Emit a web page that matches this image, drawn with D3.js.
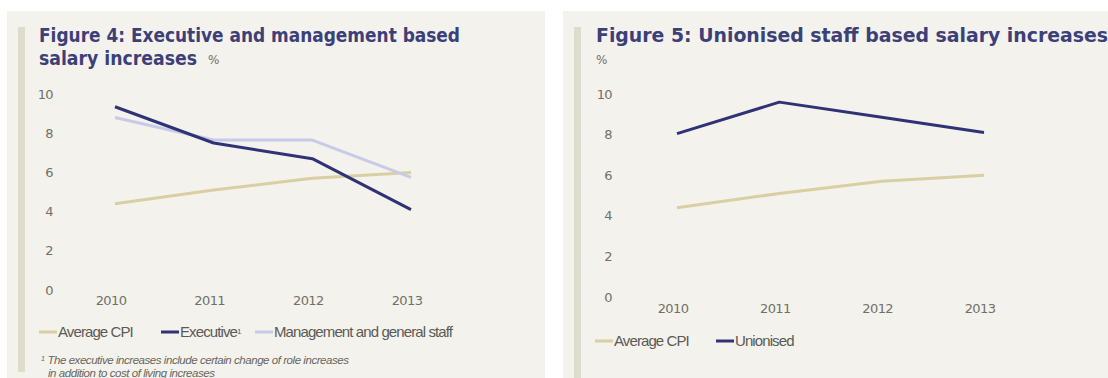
<!DOCTYPE html>
<html>
<head>
<meta charset="utf-8">
<script src="https://cdn.jsdelivr.net/npm/d3@7"></script>
<style>
  body { margin: 0; background: #fff; }
  svg { display: block; }
  .tick-label { font-family: "DejaVu Sans", sans-serif; font-size: 13px; fill: #707069; letter-spacing: -0.6px; }
  .legend-label { font-family: "Liberation Sans", sans-serif; font-size: 15px; fill: #5a5a56; letter-spacing: -0.9px; }
  .title { font-family: "DejaVu Sans Condensed", "DejaVu Sans", sans-serif; font-weight: 700; font-size: 19px; fill: #3c4078; }
</style>
</head>
<body>
<script>
'use strict';

// data
var years      = [2010, 2011, 2012, 2013];
var yTicks     = [0, 2, 4, 6, 8, 10];
var cpi        = [4.4, 5.1, 5.7, 6.0];
var executive  = [9.35, 7.5, 6.7, 4.1];
var management = [8.8, 7.65, 7.65, 5.75];
var unionised  = [8.05, 9.6, 8.85, 8.1];

var colors = {
    cpi        : '#d8cfa2'
  , navy       : '#2f3375'
  , management : '#c8cbe8'
}

var svg = d3.select('body').append('svg')
  .attr('width', 1108)
  .attr('height', 378)

function panel (opts) {
  var g = svg.append('g');

  g.append('rect')
    .attr('x', opts.left).attr('y', 11)
    .attr('width', opts.width).attr('height', 367)
    .attr('fill', '#f4f2ec')

  g.append('rect')
    .attr('x', opts.left + 11).attr('y', 27)
    .attr('width', 7).attr('height', opts.barBottom - 27)
    .attr('fill', '#dedcca')

  opts.titles.forEach(function (t) {
    g.append('text')
      .attr('class', 'title')
      .attr('x', t.x).attr('y', t.y)
      .attr('textLength', t.len)
      .attr('lengthAdjust', 'spacingAndGlyphs')
      .text(t.text)
  })

  g.append('text')
    .attr('class', 'tick-label')
    .attr('x', opts.pct[0]).attr('y', opts.pct[1])
    .style('font-size', '12px')
    .text('%')

  var x = d3.scalePoint().domain(years).range(opts.xRange);
  var y = d3.scaleLinear().domain([0, 10]).range(opts.yRange);

  g.selectAll('.ylab').data(yTicks).enter().append('text')
    .attr('class', 'tick-label')
    .attr('x', opts.yLabelX)
    .attr('y', function (d) { return y(d) })
    .attr('dy', '0.35em')
    .attr('text-anchor', 'end')
    .text(function (d) { return d })

  g.selectAll('.xlab').data(years).enter().append('text')
    .attr('class', 'tick-label')
    .attr('x', function (d) { return x(d) - 4 })
    .attr('y', opts.xLabelY)
    .attr('dy', '0.35em')
    .attr('text-anchor', 'middle')
    .text(function (d) { return d })

  var line = d3.line()
    .x(function (d, i) { return x(years[i]) })
    .y(function (d) { return y(d) })

  opts.series.forEach(function (s) {
    g.append('path')
      .attr('d', line(s.values))
      .attr('fill', 'none')
      .attr('stroke', s.color)
      .attr('stroke-width', 3)
      .attr('stroke-linejoin', 'round')
  })

  opts.legend.forEach(function (l) {
    g.append('line')
      .attr('x1', l.x).attr('x2', l.x + 18)
      .attr('y1', opts.legendY).attr('y2', opts.legendY)
      .attr('stroke', l.color)
      .attr('stroke-width', 3)
    var t = g.append('text')
      .attr('class', 'legend-label')
      .attr('x', l.x + 19).attr('y', opts.legendY)
      .attr('dy', '0.35em')
      .text(l.text)
    if (l.sup) {
      t.append('tspan')
        .attr('dy', '-0.45em')
        .style('font-size', '8px')
        .text(l.sup)
    }
  })

  return g;
}

panel({
    left      : 7
  , width     : 538
  , barBottom : 372
  , titles    : [
        { text: 'Figure 4: Executive and management based', x: 39, y: 42, len: 421 }
      , { text: 'salary increases', x: 39, y: 64.5, len: 158 }
    ]
  , pct       : [208, 64]
  , xRange    : [115, 411]
  , yRange    : [290, 94]
  , yLabelX   : 53
  , xLabelY   : 300
  , series    : [
        { values: cpi,        color: colors.cpi }
      , { values: management, color: colors.management }
      , { values: executive,  color: colors.navy }
    ]
  , legendY   : 332
  , legend    : [
        { text: 'Average CPI', color: colors.cpi, x: 39 }
      , { text: 'Executive', sup: '1', color: colors.navy, x: 161 }
      , { text: 'Management and general staff', color: colors.management, x: 255 }
    ]
})

var fn = svg.append('text')
  .attr('x', 41).attr('y', 364)
  .style('font-family', '"Liberation Sans", sans-serif')
  .style('font-style', 'italic')
  .style('font-size', '11.5px')
  .style('fill', '#66665f')
  .style('letter-spacing', '-0.45px')
fn.append('tspan').attr('dy', '-3').style('font-size', '7px').text('1')
fn.append('tspan').attr('dy', '3').attr('dx', 3).text('The executive increases include certain change of role increases')
svg.append('text')
  .attr('x', 48).attr('y', 377)
  .style('font-family', '"Liberation Sans", sans-serif')
  .style('font-style', 'italic')
  .style('font-size', '11.5px')
  .style('fill', '#66665f')
  .style('letter-spacing', '-0.45px')
  .text('in addition to cost of living increases')

panel({
    left      : 563
  , width     : 545
  , barBottom : 378
  , titles    : [
        { text: 'Figure 5: Unionised staff based salary increases', x: 596, y: 42, len: 512 }
    ]
  , pct       : [596, 64]
  , xRange    : [677, 984]
  , yRange    : [297, 94]
  , yLabelX   : 612
  , xLabelY   : 308
  , series    : [
        { values: cpi,       color: colors.cpi }
      , { values: unionised, color: colors.navy }
    ]
  , legendY   : 341
  , legend    : [
        { text: 'Average CPI', color: colors.cpi, x: 595 }
      , { text: 'Unionised', color: colors.navy, x: 716 }
    ]
})
</script>
</body>
</html>
